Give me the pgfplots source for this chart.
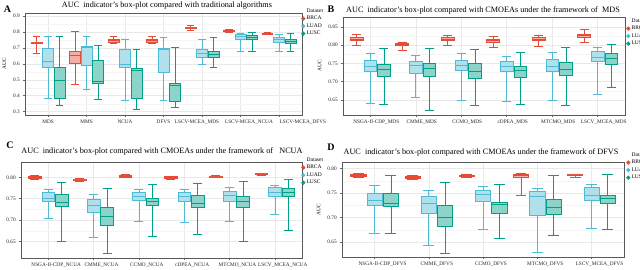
\documentclass[border=0pt]{standalone}
\usepackage{fontspec}
\setmainfont{Liberation Serif}
\usepackage{pgfplots}
\pgfplotsset{compat=1.18}
\usepgfplotslibrary{statistics}
\definecolor{cBR}{HTML}{E64B35}
\definecolor{cLA}{HTML}{4DBBD5}
\definecolor{cLS}{HTML}{00A087}
% box: colour, position, lower whisker, lower quartile, median, upper quartile, upper whisker
\newcommand{\bx}[7]{\addplot[forget plot, solid, mark=none, draw=#1, fill=#1!45, line width=0.6pt,
  boxplot/draw direction=y,
  boxplot prepared={draw direction=y, draw position=#2, lower whisker=#3, lower quartile=#4, median=#5,
  upper quartile=#6, upper whisker=#7, box extend=0.28, whisker extend=0.2}] coordinates {};}
\newcommand{\legentries}{%
  \addlegendimage{empty legend}\addlegendentry{Dataset}
  \addlegendimage{legend image code/.code={\fill[cBR] (1.9pt,0pt) circle (1.9pt);}}\addlegendentry{BRCA}
  \addlegendimage{legend image code/.code={\fill[cLA] (1.9pt,0pt) circle (1.9pt);}}\addlegendentry{LUAD}
  \addlegendimage{legend image code/.code={\fill[cLS] (1.9pt,0pt) circle (1.9pt);}}\addlegendentry{LUSC}}
\pgfplotsset{panel/.style={
  scale only axis, anchor=south west, xmin=0.4,
  /pgf/number format/assume math mode=true,
  axis line style={draw=black!65, line width=0.8pt},
  tick label style={font=\fontsize{5.3}{6}\selectfont, text=black!85},
  ylabel={AUC}, ylabel style={font=\fontsize{5.3}{6}\selectfont},
  xmajorgrids, ymajorgrids, yminorgrids, minor y tick num=1,
  major grid style={draw=gray!17, line width=0.5pt},
  minor grid style={draw=gray!8, line width=0.3pt},
  tick align=outside, tick pos=left, major tick length=1.8pt, minor tick length=0pt,
  tick style={draw=black!60, line width=0.5pt},
  legend cell align=left,
  legend style={draw=none, fill=none, font=\fontsize{5.5}{6.5}\selectfont, anchor=north west,
    inner sep=0pt, row sep=1.8pt, nodes={inner xsep=1.2pt, inner ysep=0.3pt}},
}}
\begin{document}
\begin{tikzpicture}
\useasboundingbox (0,0) rectangle (640pt,269pt);
% ---------------- A ----------------
\begin{axis}[panel, at={(25pt,154pt)}, width=277pt, height=102pt,
  xmax=7.6, ymin=0.279, ymax=0.919,
  ytick={0.3,0.4,0.5,0.6,0.7,0.8,0.9},
  yticklabel style={/pgf/number format/.cd, fixed, fixed zerofill, precision=1},
  xtick={1,2,3,4,5,6,7},
  xticklabels={MDS, MMS, NCUA, DFVS, LSCV-MCEA\_MDS\hspace*{10pt}, \hspace*{17pt}LSCV-MCEA\_NCUA, \hspace*{48pt}LSCV-MCEA\_DFVS},
  legend style={at={(rel axis cs:1,1)}, xshift=-1pt, yshift=5pt}]
\bx{cBR}{0.7}{0.668}{0.726}{0.732}{0.738}{0.775}
\bx{cLA}{1.0}{0.385}{0.580}{0.615}{0.696}{0.770}
\bx{cLS}{1.3}{0.343}{0.385}{0.496}{0.580}{0.770}
\bx{cBR}{1.7}{0.470}{0.604}{0.653}{0.680}{0.806}
\bx{cLA}{2.0}{0.440}{0.588}{0.704}{0.710}{0.774}
\bx{cLS}{2.3}{0.378}{0.479}{0.490}{0.620}{0.717}
\bx{cBR}{2.7}{0.732}{0.738}{0.746}{0.753}{0.774}
\bx{cLA}{3.0}{0.374}{0.580}{0.600}{0.690}{0.757}
\bx{cLS}{3.3}{0.317}{0.385}{0.560}{0.575}{0.690}
\bx{cBR}{3.7}{0.732}{0.738}{0.746}{0.753}{0.774}
\bx{cLA}{4.0}{0.374}{0.547}{0.693}{0.700}{0.765}
\bx{cLS}{4.3}{0.325}{0.364}{0.463}{0.478}{0.702}
\bx{cBR}{4.7}{0.808}{0.820}{0.826}{0.832}{0.843}
\bx{cLA}{5.0}{0.598}{0.643}{0.665}{0.693}{0.753}
\bx{cLS}{5.3}{0.576}{0.639}{0.662}{0.677}{0.764}
\bx{cBR}{5.7}{0.798}{0.805}{0.809}{0.812}{0.815}
\bx{cLA}{6.0}{0.676}{0.757}{0.773}{0.783}{0.793}
\bx{cLS}{6.3}{0.677}{0.753}{0.768}{0.778}{0.798}
\bx{cBR}{6.7}{0.785}{0.788}{0.791}{0.794}{0.797}
\bx{cLA}{7.0}{0.677}{0.737}{0.754}{0.765}{0.785}
\bx{cLS}{7.3}{0.677}{0.731}{0.744}{0.755}{0.790}
\legentries
\end{axis}
% ---------------- B ----------------
\begin{axis}[panel, at={(343pt,154pt)}, width=282pt, height=98pt,
  xmax=6.6, ymin=0.609, ymax=0.877,
  ytick={0.65,0.70,0.75,0.80,0.85},
  yticklabel style={/pgf/number format/.cd, fixed, fixed zerofill, precision=2},
  xtick={1,2,3,4,5,6}, xticklabel style={xshift=6pt},
  xticklabels={NSGA-II-CDP\_MDS, CMME\_MDS, CCMO\_MDS, cDPEA\_MDS, MTCMO\_MDS, LSCV\_MCEA\_MDS},
  legend style={at={(rel axis cs:1,1)}, xshift=1pt, yshift=-1pt}]
\bx{cBR}{0.7}{0.800}{0.812}{0.816}{0.821}{0.829}
\bx{cLA}{1.0}{0.641}{0.728}{0.742}{0.759}{0.779}
\bx{cLS}{1.3}{0.637}{0.716}{0.733}{0.747}{0.791}
\bx{cBR}{1.7}{0.786}{0.799}{0.802}{0.805}{0.809}
\bx{cLA}{2.0}{0.657}{0.723}{0.746}{0.755}{0.771}
\bx{cLS}{2.3}{0.623}{0.714}{0.738}{0.751}{0.791}
\bx{cBR}{2.7}{0.800}{0.812}{0.816}{0.821}{0.826}
\bx{cLA}{3.0}{0.650}{0.732}{0.746}{0.758}{0.779}
\bx{cLS}{3.3}{0.636}{0.709}{0.729}{0.750}{0.788}
\bx{cBR}{3.7}{0.795}{0.808}{0.812}{0.816}{0.823}
\bx{cLA}{4.0}{0.647}{0.728}{0.743}{0.756}{0.770}
\bx{cLS}{4.3}{0.639}{0.711}{0.732}{0.742}{0.781}
\bx{cBR}{4.7}{0.796}{0.812}{0.817}{0.821}{0.828}
\bx{cLA}{5.0}{0.648}{0.728}{0.743}{0.762}{0.780}
\bx{cLS}{5.3}{0.635}{0.718}{0.735}{0.752}{0.793}
\bx{cBR}{5.7}{0.807}{0.821}{0.826}{0.831}{0.843}
\bx{cLA}{6.0}{0.665}{0.755}{0.768}{0.782}{0.795}
\bx{cLS}{6.3}{0.686}{0.747}{0.765}{0.777}{0.803}
\legentries
\end{axis}
% ---------------- C ----------------
\begin{axis}[panel, at={(21pt,11pt)}, width=281pt, height=96pt,
  xmax=6.6, ymin=0.611, ymax=0.836,
  ytick={0.65,0.70,0.75,0.80},
  yticklabel style={/pgf/number format/.cd, fixed, fixed zerofill, precision=2},
  xtick={1,2,3,4,5,6}, xticklabel style={xshift=8pt},
  xticklabels={NSGA-II-CDP\_NCUA, CMME\_NCUA, CCMO\_NCUA, cDPEA\_NCUA, MTCMO\_NCUA, LSCV\_MCEA\_NCUA},
  legend style={at={(rel axis cs:1,1)}, xshift=-1pt, yshift=5pt}]
\bx{cBR}{0.7}{0.796}{0.798}{0.800}{0.802}{0.804}
\bx{cLA}{1.0}{0.704}{0.743}{0.752}{0.764}{0.773}
\bx{cLS}{1.3}{0.649}{0.733}{0.741}{0.760}{0.788}
\bx{cBR}{1.7}{0.790}{0.792}{0.794}{0.796}{0.797}
\bx{cLA}{2.0}{0.659}{0.717}{0.735}{0.748}{0.760}
\bx{cLS}{2.3}{0.621}{0.688}{0.708}{0.729}{0.774}
\bx{cBR}{2.7}{0.799}{0.801}{0.803}{0.805}{0.807}
\bx{cLA}{3.0}{0.698}{0.747}{0.755}{0.764}{0.773}
\bx{cLS}{3.3}{0.662}{0.735}{0.743}{0.752}{0.784}
\bx{cBR}{3.7}{0.795}{0.798}{0.800}{0.802}{0.803}
\bx{cLA}{4.0}{0.694}{0.745}{0.755}{0.764}{0.772}
\bx{cLS}{4.3}{0.666}{0.731}{0.739}{0.759}{0.787}
\bx{cBR}{4.7}{0.799}{0.800}{0.801}{0.803}{0.804}
\bx{cLA}{5.0}{0.698}{0.743}{0.757}{0.768}{0.777}
\bx{cLS}{5.3}{0.649}{0.731}{0.745}{0.755}{0.790}
\bx{cBR}{5.7}{0.805}{0.807}{0.808}{0.809}{0.810}
\bx{cLA}{6.0}{0.714}{0.755}{0.766}{0.776}{0.782}
\bx{cLS}{6.3}{0.677}{0.756}{0.766}{0.774}{0.795}
\legentries
\end{axis}
% ---------------- D ----------------
\begin{axis}[panel, at={(342pt,12pt)}, width=282pt, height=95pt,
  xmax=5.6, ymin=0.620, ymax=0.813,
  ytick={0.65,0.70,0.75,0.80},
  yticklabel style={/pgf/number format/.cd, fixed, fixed zerofill, precision=2},
  xtick={1,2,3,4,5}, xticklabel style={xshift=8pt},
  xticklabels={NSGA-II-CDP\_DFVS, CMME\_DFVS, CCMO\_DFVS, MTCMO\_DFVS, LSCV\_MCEA\_DFVS},
  legend style={at={(rel axis cs:1,1)}, xshift=2pt, yshift=10pt}]
\bx{cBR}{0.7}{0.782}{0.784}{0.786}{0.788}{0.790}
\bx{cLA}{1.0}{0.668}{0.726}{0.735}{0.749}{0.766}
\bx{cLS}{1.3}{0.668}{0.724}{0.729}{0.749}{0.786}
\bx{cBR}{1.7}{0.778}{0.779}{0.781}{0.783}{0.785}
\bx{cLA}{2.0}{0.643}{0.709}{0.729}{0.743}{0.755}
\bx{cLS}{2.3}{0.627}{0.682}{0.701}{0.726}{0.772}
\bx{cBR}{2.7}{0.781}{0.784}{0.786}{0.787}{0.789}
\bx{cLA}{3.0}{0.676}{0.733}{0.747}{0.755}{0.764}
\bx{cLS}{3.3}{0.658}{0.708}{0.727}{0.732}{0.767}
\bx{cBR}{3.7}{0.746}{0.782}{0.785}{0.789}{0.790}
\bx{cLA}{4.0}{0.629}{0.705}{0.744}{0.754}{0.759}
\bx{cLS}{4.3}{0.665}{0.707}{0.720}{0.737}{0.785}
\bx{cBR}{4.7}{0.782}{0.785}{0.787}{0.788}{0.789}
\bx{cLA}{5.0}{0.678}{0.736}{0.746}{0.761}{0.768}
\bx{cLS}{5.3}{0.676}{0.730}{0.740}{0.745}{0.788}
\legentries
\end{axis}
% ---------------- titles and panel letters ----------------
\node[font=\fontsize{8.2}{9}\selectfont] at (167pt,263pt) {AUC\ \ indicator's box-plot compared with traditional algorithms};
\node[font=\fontsize{8.2}{9}\selectfont] at (483pt,259pt) {AUC\ \ indicator's box-plot compared with CMOEAs under the framework of\ \ MDS};
\node[font=\fontsize{8.2}{9}\selectfont] at (162pt,118pt) {AUC\ \ indicator's box-plot compared with CMOEAs under the framework of\ \ \ NCUA};
\node[font=\fontsize{8.2}{9}\selectfont] at (481pt,117pt) {AUC\ \ indicator's box-plot compared with CMOEAs under the framework of DFVS};
\node[font=\bfseries\fontsize{10}{12}\selectfont] at (7.5pt,260pt) {A};
\node[font=\bfseries\fontsize{10}{12}\selectfont] at (331pt,260pt) {B};
\node[font=\bfseries\fontsize{10}{12}\selectfont] at (10pt,124pt) {C};
\node[font=\bfseries\fontsize{10}{12}\selectfont] at (331pt,122pt) {D};
\end{tikzpicture}
\end{document}
